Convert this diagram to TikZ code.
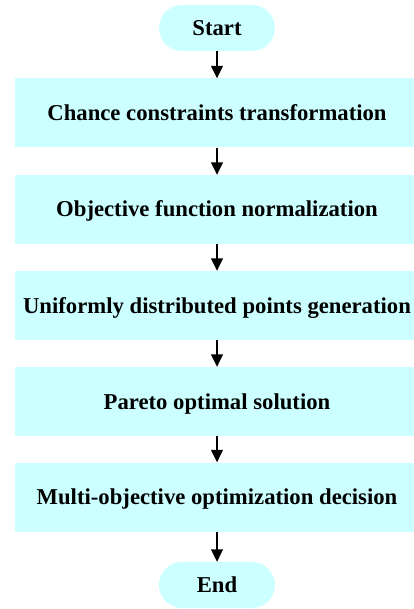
\documentclass[tikz,border=0pt]{standalone}
\usepackage{fontspec}
\setmainfont{Liberation Serif}
\usepackage{tikz}
\usetikzlibrary{arrows.meta}
\definecolor{boxcyan}{RGB}{204,255,255}
\tikzstyle{every picture}=[->,>={Triangle[length=12.5pt,width=12pt]}]

\begin{document}
\begin{tikzpicture}[x=1pt,y=-1pt]
\useasboundingbox (0,0) rectangle (413,609);
\begin{scope}[every node/.style={fill=boxcyan,inner sep=0pt,text height=15pt,text depth=0pt,font=\fontsize{22.7}{27}\selectfont\bfseries}]
    \node[minimum width=116pt,minimum height=46pt,rounded corners=23pt](start) at (217,28) {Start};
    \node[minimum width=404pt,minimum height=69pt](chance) at (217,113) {Chance constraints transformation};
    \node[minimum width=404pt,minimum height=69pt](norm) at (217,209.5) {Objective function normalization};
    \node[minimum width=404pt,minimum height=69pt](points) at (217,305.5) {Uniformly distributed points generation};
    \node[minimum width=404pt,minimum height=69pt](pareto) at (217,401.5) {Pareto optimal solution};
    \node[minimum width=404pt,minimum height=69pt](decision) at (217,497) {Multi-objective optimization decision};
    \node[minimum width=116pt,minimum height=46pt,rounded corners=23pt](end) at (217,585) {End};
\end{scope}

\path[draw, line width=1.5pt] (start) -- (chance);
\path[draw, line width=1.5pt] (chance) -- (norm);
\path[draw, line width=1.5pt] (norm) -- (points);
\path[draw, line width=1.5pt] (points) -- (pareto);
\path[draw, line width=1.5pt] (pareto) -- (decision);
\path[draw, line width=1.5pt] (decision) -- (end);
\end{tikzpicture}
\end{document}
